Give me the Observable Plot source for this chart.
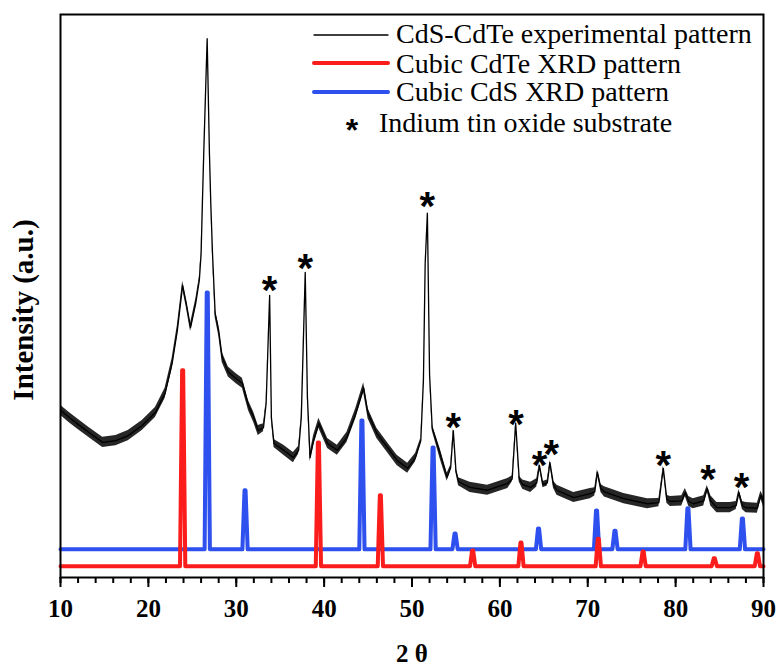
<!DOCTYPE html>
<html><head><meta charset="utf-8">
<script src="https://cdn.jsdelivr.net/npm/d3@7"></script>
<script src="https://cdn.jsdelivr.net/npm/@observablehq/plot@0.6"></script>
<style>
body{margin:0;background:#fff;}
#wrap{position:relative;width:779px;height:667px;}
</style></head><body><div id="wrap"></div>
<script>
// 2θ (deg), intensity (a.u.), noise half-band (a.u.)
const expPattern = [
[10.0,29.7,1.0],[11.0,28.4,1.0],[12.0,27.2,1.0],[13.2,25.8,1.0],[14.8,24.0,1.0],[16.3,24.3,1.0],
[17.7,25.2,1.0],[19.3,27.0,1.0],[20.8,29.3,1.0],[21.9,32.7,1.0],[22.7,38.0,1.0],[23.3,43.9,1.0],
[23.9,51.9,0.8],[24.3,48.8,0.8],[24.8,44.4,0.8],[25.4,48.8,0.8],[25.8,52.8,0.6],[26.0,57.5,0.4],
[26.15,66.6,0.3],[26.3,75.3,0.2],[26.69,95.7,0.1],[26.95,75.3,0.2],[27.1,66.6,0.3],[27.3,57.5,0.5],
[27.6,46.9,0.8],[28.0,43.9,1.0],[28.4,39.1,1.0],[29.1,36.5,1.0],[30.0,35.3,1.0],[30.7,34.5,1.0],
[31.4,30.5,1.0],[32.0,28.4,1.0],[32.5,26.1,1.0],[33.1,26.6,0.8],[33.4,30.9,0.4],[33.8,50.1,0.1],
[34.0,28.4,0.4],[34.3,23.8,0.8],[35.4,22.6,1.0],[36.5,21.3,1.0],[37.1,22.6,0.8],[37.4,28.4,0.4],
[37.85,54.2,0.1],[38.1,32.0,0.4],[38.4,21.3,0.8],[38.8,24.3,1.0],[39.4,27.4,1.0],[40.4,23.8,1.0],
[41.5,22.6,1.0],[42.6,24.9,1.0],[43.6,29.1,1.0],[44.5,33.7,1.0],[45.0,29.1,1.0],[46.0,25.6,1.0],
[47.2,23.1,1.0],[48.3,20.8,1.0],[49.5,19.4,1.0],[50.4,21.3,0.8],[51.0,24.3,0.5],[51.3,35.0,0.3],
[51.5,55.8,0.1],[51.75,64.7,0.1],[52.0,36.0,0.2],[52.3,26.6,0.6],[53.2,22.0,1.0],[54.0,17.8,0.8],
[54.4,19.5,0.5],[54.7,26.1,0.3],[55.0,19.0,0.5],[55.3,17.0,0.8],[56.6,16.0,1.0],[58.6,15.5,1.0],
[60.9,16.7,1.0],[61.4,17.5,0.6],[61.8,27.4,0.3],[62.2,17.5,0.6],[62.6,16.5,0.9],[63.5,16.0,1.0],
[64.2,16.8,0.8],[64.5,19.9,0.4],[64.9,16.5,0.6],[65.4,16.8,0.6],[65.7,20.4,0.4],[66.1,16.5,0.7],
[66.5,15.5,1.0],[68.4,14.2,1.0],[70.3,14.9,1.0],[70.8,15.2,0.8],[71.1,18.7,0.5],[71.5,15.8,0.8],
[71.9,15.2,1.0],[74.1,14.0,1.0],[76.8,13.1,1.0],[78.1,13.3,0.8],[78.6,19.4,0.4],[79.0,13.9,0.8],
[79.4,13.5,1.0],[80.7,13.6,1.0],[81.1,15.1,0.8],[81.5,13.5,1.0],[82.0,13.1,1.0],[83.2,13.6,1.0],
[83.6,15.8,0.6],[84.0,13.6,1.0],[84.7,12.4,1.0],[86.2,12.4,1.0],[86.9,12.8,0.8],[87.2,15.1,0.6],
[87.6,12.8,0.8],[88.0,12.4,1.0],[89.3,12.3,1.0],[89.7,14.6,0.8],[90.0,13.5,1.0]
];
// Cubic CdTe reference peaks: [2θ, height]
const cdtePeaks = [[23.9,36.8],[39.35,24.0],[46.4,14.6],[56.9,4.8],[62.4,6.2],[71.2,6.9],[76.3,4.6],[84.4,3.4],[89.3,4.3]];
const cdteBase = 2.0;
// Cubic CdS reference peaks: [2θ, height]
const cdsPeaks = [[26.7,50.6],[31.0,15.5],[44.3,27.9],[52.4,23.1],[54.9,7.8],[64.4,8.7],[71.0,11.9],[73.1,8.3],[81.4,12.3],[87.6,10.5]];
const cdsBase = 5.0;
// Indium tin oxide substrate markers
const itoTheta = [33.8,37.85,51.75,54.7,61.85,64.5,65.85,78.6,83.7,87.5];
const itoMarkY = [52.4,56.3,67.3,28.1,28.6,21.3,23.4,21.3,18.8,17.4];
const xTicks = [10,20,30,40,50,60,70,80,90];
const xMinor = d3.range(10, 91, 2);
const legendLabels = ["CdS-CdTe experimental pattern","Cubic CdTe XRD pattern","Cubic CdS XRD pattern","Indium tin oxide substrate"];

const RED = "#fb1c1c", BLUE = "#2d50ee";
const SERIF = "'Liberation Serif', 'Times New Roman', serif";

function sticks(peaks, base) {
  const pts = [[10, base]];
  for (const [p, h] of peaks) pts.push([p - 0.3, base], [p - 0.06, h], [p + 0.06, h], [p + 0.3, base]);
  pts.push([90, base]);
  return pts;
}
const exp = expPattern.map(([t, i, n]) => ({t, i, n}));
const ito = itoTheta.map((t, k) => ({t, y: itoMarkY[k]}));

const chart = Plot.plot({
  width: 779, height: 667,
  marginLeft: 60, marginRight: 16, marginTop: 14, marginBottom: 90,
  x: {domain: [10, 90]},
  y: {domain: [0, 100], axis: null},
  style: {fontFamily: SERIF, background: "white", color: "#000"},
  marks: [
    Plot.areaY(exp, {x: "t", y1: d => d.i - d.n * 0.9, y2: d => d.i + d.n * 0.9, fill: "#000", fillOpacity: 0.85}),
    Plot.line(exp, {x: "t", y: "i", stroke: "#000", strokeWidth: 1.3}),
    Plot.line(sticks(cdsPeaks, cdsBase), {x: d => d[0], y: d => d[1], stroke: BLUE, strokeWidth: 4, strokeLinejoin: "round"}),
    Plot.line(sticks(cdtePeaks, cdteBase), {x: d => d[0], y: d => d[1], stroke: RED, strokeWidth: 4, strokeLinejoin: "round"}),
    Plot.text(ito, {x: "t", y: "y", text: () => "*", fontSize: 40, fontWeight: "bold", fontFamily: "'Liberation Sans', Arial, sans-serif", dy: 9}),
    Plot.axisX({ticks: xMinor, tickSize: 6, tickFormat: () => "", strokeWidth: 2, label: null}),
    Plot.axisX({ticks: xTicks, tickSize: 10, tickPadding: 12, fontSize: 25, fontWeight: "bold", fontFamily: SERIF, strokeWidth: 2,
      label: "2 θ", labelAnchor: "center", labelArrow: "none", labelOffset: 84}),
    Plot.frame({stroke: "#000", strokeWidth: 2}),
    Plot.text(["Intensity (a.u.)"], {frameAnchor: "left", textAnchor: "middle", rotate: -90, dx: -37, dy: 14, fontSize: 29, fontWeight: "bold", fontFamily: SERIF})
  ]
});
document.getElementById("wrap").appendChild(chart);

const svg = d3.select(chart);
// legend inside the frame
const lg = svg.append("g").attr("font-family", SERIF).attr("font-size", 28).attr("text-anchor", "start").attr("fill", "#000");
const rows = [
  {y: 35, base: 43, type: "line", color: "#000", w: 1.3},
  {y: 63, base: 73, type: "line", color: RED, w: 4},
  {y: 92, base: 101, type: "line", color: BLUE, w: 4},
  {y: 126, base: 132, type: "star"}
];
rows.forEach((r, k) => {
  if (r.type === "line") {
    lg.append("line").attr("x1", 314).attr("x2", 388).attr("y1", r.y).attr("y2", r.y)
      .attr("stroke", r.color).attr("stroke-width", r.w).attr("stroke-linecap", "round");
    lg.append("text").attr("x", 396).attr("y", r.base).attr("text-anchor", "start").text(legendLabels[k]);
  } else {
    lg.append("text").attr("x", 352).attr("y", r.y + 15).attr("text-anchor", "middle")
      .attr("font-family", "'Liberation Sans', Arial, sans-serif").attr("font-weight", "bold").attr("font-size", 32).text("*");
    lg.append("text").attr("x", 379).attr("y", r.base).attr("text-anchor", "start").text(legendLabels[k]);
  }
});
</script>
</body></html>
